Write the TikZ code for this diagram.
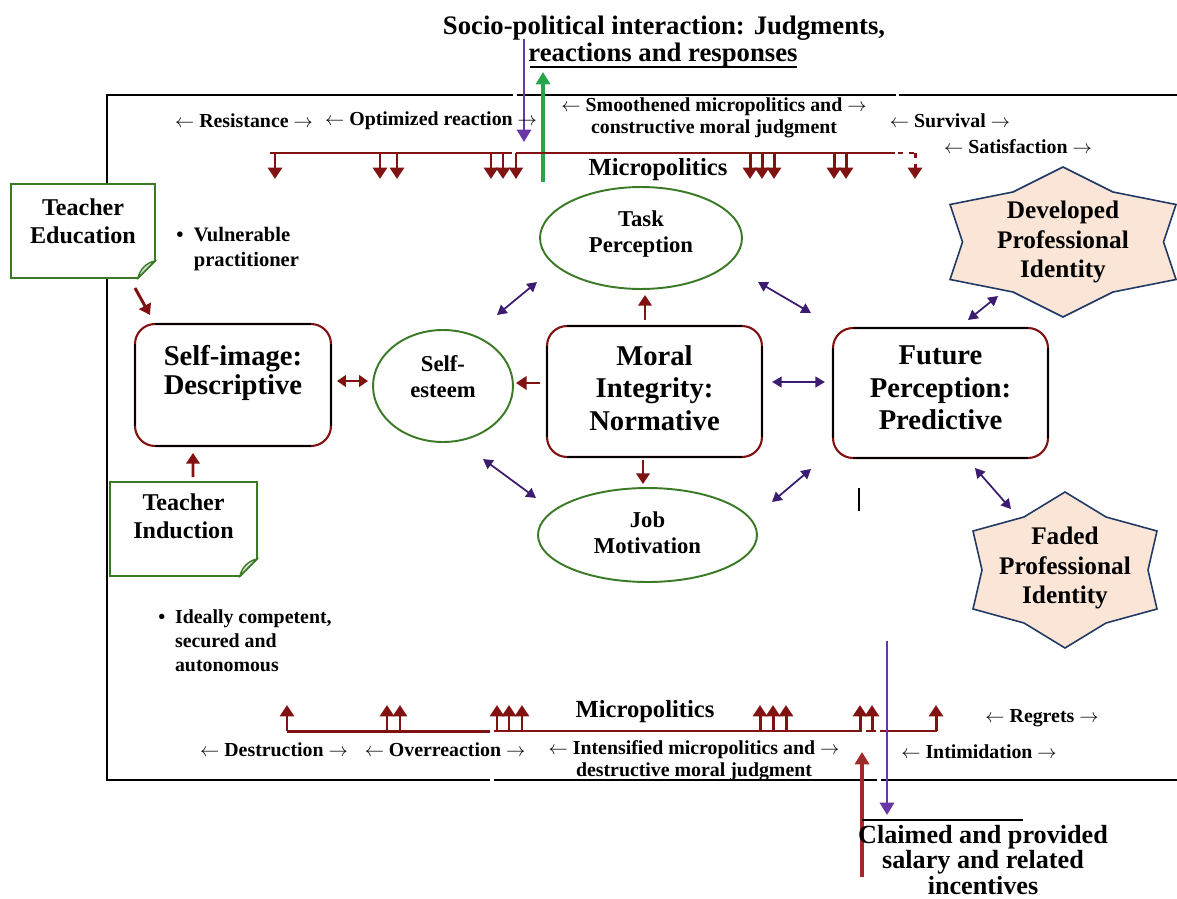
\documentclass[tikz,border=0pt]{standalone}
\usepackage{fontspec}
\setmainfont{Liberation Serif}
\usetikzlibrary{arrows.meta,calc,shapes.geometric}
\definecolor{dred}{RGB}{128,18,18}
\definecolor{mred}{RGB}{165,40,40}
\definecolor{dpurp}{RGB}{60,28,112}
\definecolor{lpurp}{RGB}{105,55,165}
\definecolor{egreen}{RGB}{58,122,38}
\definecolor{lgreen}{RGB}{40,165,75}
\definecolor{starfill}{RGB}{251,229,214}
\definecolor{starline}{RGB}{32,56,100}
\tikzset{
  fbig/.style={font=\fontsize{16.3pt}{18.4pt}\selectfont\bfseries, align=center},
  fmid/.style={font=\fontsize{12.9pt}{14.7pt}\selectfont\bfseries, align=center},
  fnote/.style={font=\fontsize{13.7pt}{15.9pt}\selectfont\bfseries, align=center},
  fstar/.style={font=\fontsize{14.4pt}{17pt}\selectfont\bfseries, align=center},
  fsmall/.style={font=\fontsize{11.3pt}{12.5pt}\selectfont\bfseries, align=center},
  fmicro/.style={font=\fontsize{14pt}{16pt}\selectfont\bfseries},
  ftitle/.style={font=\fontsize{15.2pt}{16pt}\selectfont\bfseries},
  ebox/.style={ellipse, draw=egreen, line width=1.1pt, inner sep=0pt, outer sep=0pt},
  rbox/.style={rectangle, rounded corners=0.4cm, draw=dred, line width=1.2pt, inner sep=0pt, outer sep=0pt},
  notebox/.style={rectangle, inner sep=0pt, outer sep=0pt},
  noteline/.style={draw=egreen, line width=1.1pt, fill=white},
  starline/.style={draw=starline, line width=0.9pt, fill=starfill},
  redline/.style={draw=dred, line width=1.7pt},
  microarr/.style={draw=dred, line width=1.7pt, -{Triangle[width=8pt,length=6.5pt]}},
  rarr/.style={draw=dred, line width=1.7pt, -{Triangle[width=7.5pt,length=6pt]}},
  rarrb/.style={draw=dred, line width=1.5pt, {Triangle[width=6.5pt,length=5pt]}-{Triangle[width=6.5pt,length=5pt]}},
  parr/.style={draw=dpurp, line width=1pt, {Triangle[width=6pt,length=5.5pt]}-{Triangle[width=6pt,length=5.5pt]}},
  frame/.style={draw=black, line width=1.4pt},
}
\newcommand\blacksides[2]{%
  \draw[line width=1.2pt, black] ($(#1.north west)+(#2,0)$) -- ($(#1.north east)+(-#2,0)$);
  \draw[line width=1.2pt, black] ($(#1.south west)+(#2,0)$) -- ($(#1.south east)+(-#2,0)$);
  \draw[line width=1.2pt, black] ($(#1.north west)+(0,#2)$) -- ($(#1.south west)+(0,-#2)$);
  \draw[line width=1.2pt, black] ($(#1.north east)+(0,#2)$) -- ($(#1.south east)+(0,-#2)$);
}
\newcommand\notedraw[2]{%
  \draw[noteline] (#1.north west) -- (#1.north east) -- ($(#1.south east)+(0,-#2)$) -- ($(#1.south east)+(-#2,0)$) -- (#1.south west) -- cycle;
  \draw[noteline, fill=egreen!20, line width=0.8pt] ($(#1.south east)+(-#2,0)$) .. controls ($(#1.south east)+(-#2*0.9,-#2*0.5)$) and ($(#1.south east)+(-#2*0.5,-#2*0.9)$) .. ($(#1.south east)+(0,-#2)$) -- cycle;
}
\begin{document}
\begin{tikzpicture}[x=0.02cm, y=-0.02cm]
\useasboundingbox (0,0) rectangle (1177,899);

% ---------- frame ----------
\draw[frame] (1177,95) -- (899,95);
\draw[frame] (896,95) -- (517,95);
\draw[frame] (513,95) -- (107,95) -- (107,780) -- (490,780);
\draw[frame] (494,780) -- (877,780);
\draw[frame] (881,780) -- (1177,780);

% ---------- title ----------
\node[ftitle] (title1) at (664,28) {Socio-political interaction: Judgments,};
\node[ftitle] (title2) at (663,55) {reactions and responses};
\draw[line width=1.4pt] (530,67) -- (797,67);

% ---------- top vertical arrows ----------
\coordinate (ptopA) at (524,39);
\coordinate (ptopB) at (524,142);
\draw[draw=lpurp, line width=1.6pt, -{Triangle[width=8pt,length=7pt]}, color=lpurp] (ptopA) -- (ptopB);
\coordinate (gtopA) at (543,182);
\coordinate (gtopB) at (543,72);
\draw[draw=lgreen, line width=1.8pt, -{Triangle[width=8pt,length=7pt]}, color=lgreen] (gtopA) -- (gtopB);

% ---------- top labels ----------
\node[fsmall] (lres) at (244,121) {$\leftarrow$ Resistance $\rightarrow$};
\node[fsmall] (lopt) at (431,121) {$\leftarrow$ Optimized reaction $\rightarrow$};
\node[fsmall, font=\fontsize{11.3pt}{12.4pt}\selectfont\bfseries] (lsmo) at (714,118) {$\leftarrow$ Smoothened micropolitics and $\rightarrow$\\constructive moral judgment};
\node[fsmall] (lsur) at (950,121) {$\leftarrow$ Survival $\rightarrow$};
\node[fsmall] (lsat) at (1018,147) {$\leftarrow$ Satisfaction $\rightarrow$};

% ---------- top micropolitics ----------
\draw[redline] (270,153) -- (512,153);
\draw[redline] (516,153) -- (895,153);
\draw[redline, dashed] (898,153) -- (915,153);
\foreach \xx in {275,380,397,491,503,750,762,774,834,846}
  \draw[microarr] (\xx,153) -- (\xx,179);
\draw[microarr, line width=0.9pt] (516,153) -- (516,179);
\draw[microarr, dashed] (915,153) -- (915,179);
\node[fmicro] (mtop) at (658,170) {Micropolitics};

% ---------- notes ----------
\node[notebox, minimum width=2.88cm, minimum height=1.88cm] (te) at (83,231) {};
\notedraw{te}{17}
\node[fnote] (tet) at (83,221) {Teacher\\Education};
\node[notebox, minimum width=2.94cm, minimum height=1.88cm] (ti) at (183.5,529) {};
\notedraw{ti}{17}
\node[fnote] (tit) at (183.5,516) {Teacher\\Induction};

% ---------- bullets ----------
\node[font=\fontsize{11.7pt}{14.7pt}\selectfont\bfseries, align=left, anchor=west, inner sep=0pt] (vul) at (176,249)
  {\makebox[10pt][l]{\textbullet}Vulnerable\\\hspace*{10pt}practitioner};
\node[font=\fontsize{11.3pt}{13.6pt}\selectfont\bfseries, align=left, anchor=west, inner sep=0pt] (ideal) at (158,641)
  {\makebox[9.5pt][l]{\textbullet}Ideally competent,\\\hspace*{9.5pt}secured and\\\hspace*{9.5pt}autonomous};

% ---------- boxes ----------
\node[rbox, minimum width=3.92cm, minimum height=2.44cm] (selfimg) at (233,385) {};
\blacksides{selfimg}{20}
\node[fbig, font=\fontsize{16.3pt}{17pt}\selectfont\bfseries] (selfimgt) at (233,373) {Self-image:\\Descriptive};

\node[rbox, minimum width=4.30cm, minimum height=2.62cm] (moral) at (654.5,391.5) {};
\blacksides{moral}{20}
\node[fbig] (moralt) at (654.5,388) {Moral\\Integrity:\\Normative};

\node[rbox, minimum width=4.30cm, minimum height=2.60cm] (future) at (940.5,393) {};
\blacksides{future}{20}
\node[fbig] (futuret) at (940.5,388) {Future\\Perception:\\Predictive};

% ---------- ellipses ----------
\node[ebox, minimum width=2.8cm, minimum height=2.24cm] (se) at (443,386) {};
\node[fmid] (set) at (443,377) {Self-\\esteem};
\node[ebox, minimum width=4.04cm, minimum height=2.04cm] (task) at (641,238) {};
\node[fmid] (taskt) at (641,234) {Task\\Perception};
\node[ebox, minimum width=4.38cm, minimum height=1.88cm] (job) at (647.5,535) {};
\node[fmid] (jobt) at (647.5,533) {Job\\Motivation};

% ---------- stars ----------
\coordinate (devc) at (1063,242);
\draw[starline] ($(devc)+(0,-75)$) -- ($(devc)+(50,-50)$) -- ($(devc)+(113,-37.5)$) -- ($(devc)+(100.5,0)$)
  -- ($(devc)+(113,37.5)$) -- ($(devc)+(50,50)$) -- ($(devc)+(0,75)$) -- ($(devc)+(-50,50)$)
  -- ($(devc)+(-113,37.5)$) -- ($(devc)+(-100.5,0)$) -- ($(devc)+(-113,-37.5)$) -- ($(devc)+(-50,-50)$) -- cycle;
\node[fstar] (dev) at (devc) {Developed\\Professional\\Identity};
\coordinate (fadc) at (1065,570);
\draw[starline] ($(fadc)+(0,-78)$) -- ($(fadc)+(41,-53)$) -- ($(fadc)+(92,-39)$) -- ($(fadc)+(83,0)$)
  -- ($(fadc)+(92,39)$) -- ($(fadc)+(41,53)$) -- ($(fadc)+(0,78)$) -- ($(fadc)+(-41,53)$)
  -- ($(fadc)+(-92,39)$) -- ($(fadc)+(-83,0)$) -- ($(fadc)+(-92,-39)$) -- ($(fadc)+(-41,-53)$) -- cycle;
\node[fstar] (fad) at ($(fadc)+(0,-2)$) {Faded\\Professional\\Identity};

% ---------- connectors ----------
\draw[parr] ($(se)+(54,-71)$) -- ($(task)+(-104,44)$);
\draw[parr] ($(task)+(117,44)$) -- ($(future)+(-129.5,-80)$);
\draw[parr] ($(se)+(40,73)$) -- ($(job)+(-111.5,-37)$);
\draw[parr] ($(job)+(124.5,-33)$) -- ($(future)+(-129.5,76)$);
\draw[parr, line width=1.7pt] ($(moral)+(117.5,-9.5)$) -- ($(future)+(-115.5,-11)$);
\draw[parr] ($(future)+(27.5,-73)$) -- ($(devc)+(-65,54)$);
\draw[parr] ($(future)+(34.5,75)$) -- ($(fadc)+(-54,-61)$);

\draw[rarr] ($(moral)+(-114.5,-8.5)$) -- ($(se)+(73,-3)$);
\draw[rarr] ($(moral)+(-9.5,-71.5)$) -- ($(task)+(4,57)$);
\draw[rarr] ($(moral)+(-11.5,68.5)$) -- ($(job)+(-4.5,-51)$);
\draw[rarrb] ($(selfimg)+(104,-4)$) -- ($(se)+(-75,-5)$);
\draw[rarr] ($(te)+(52,57)$) -- ($(selfimg)+(-83,-70)$);
\draw[rarr] ($(ti)+(9.5,-52)$) -- ($(selfimg)+(-40,68)$);

% small vertical mark
\draw[line width=1.1pt] (859,488) -- (859,511);

% ---------- bottom micropolitics ----------
\draw[redline] (287,731) -- (490,731);
\draw[redline, line width=1.1pt] (494,731) -- (862,731);
\draw[redline, line width=1.1pt] (866,731) -- (876,731);
\draw[redline, line width=1.1pt] (880,731) -- (937,731);
\foreach \xx in {287,387,400,497,509,522,760,773,786,860,872,936}
  \draw[microarr] (\xx,731) -- (\xx,705);
\node[fmicro] (mbot) at (645,712) {Micropolitics};

\node[fsmall] (ldes) at (274,750) {$\leftarrow$ Destruction $\rightarrow$};
\node[fsmall] (lover) at (445,750) {$\leftarrow$ Overreaction $\rightarrow$};
\node[fsmall, font=\fontsize{11.3pt}{12.4pt}\selectfont\bfseries] (lint) at (694,761) {$\leftarrow$ Intensified micropolitics and $\rightarrow$\\destructive moral judgment};
\node[fsmall] (lreg) at (1042,718) {$\leftarrow$ Regrets $\rightarrow$};
\node[fsmall] (lintim) at (979,752) {$\leftarrow$ Intimidation $\rightarrow$};

% ---------- bottom vertical arrows ----------
\coordinate (pbotA) at (887,641);
\coordinate (pbotB) at (887,815);
\draw[draw=lpurp, line width=1.6pt, -{Triangle[width=8pt,length=7pt]}, color=lpurp] (pbotA) -- (pbotB);
\coordinate (rbotA) at (862,877);
\coordinate (rbotB) at (862,752);
\draw[draw=mred, line width=1.8pt, -{Triangle[width=8pt,length=7pt]}, color=mred] (rbotA) -- (rbotB);
\draw[line width=1.6pt] (862,820) -- (1023,820);
\node[font=\fontsize{14.9pt}{14.5pt}\selectfont\bfseries, align=center] (claimed) at (983,860)
  {Claimed and provided\\salary and related\\incentives};
\end{tikzpicture}
\end{document}
